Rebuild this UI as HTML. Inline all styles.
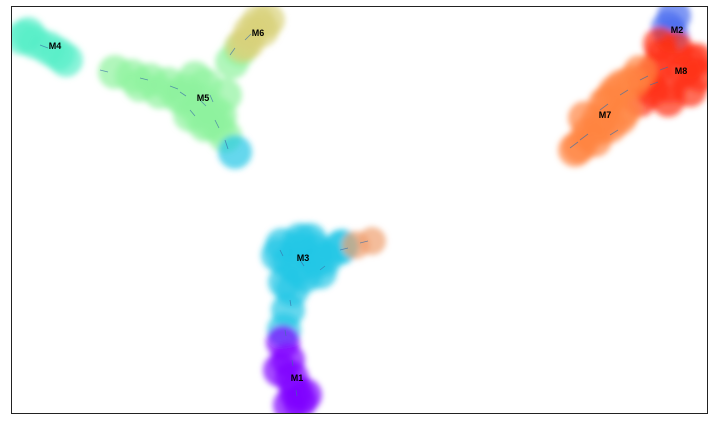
<!DOCTYPE html>
<html><head><meta charset="utf-8"><style>
html,body{margin:0;padding:0;background:#fff;}
svg{display:block;font-family:"Liberation Sans",sans-serif;}
</style></head><body>
<svg id="chart" width="712" height="424" viewBox="0 0 712 424">
<defs>
<filter id="blur" x="-20%" y="-20%" width="140%" height="140%"><feGaussianBlur stdDeviation="3"/></filter>
<clipPath id="clip"><rect x="12" y="7" width="695" height="406"/></clipPath>
</defs>
<g clip-path="url(#clip)"><g id="points" filter="url(#blur)"></g></g>
<g id="arrows"></g>
<g id="labels"></g>
<rect x="11.5" y="6.5" width="696" height="407" fill="none" stroke="#222" stroke-width="1"/>
</svg>
<script>
const clusterNames = ["M4","M5","M6","M3","M1","M2","M8","M7",""];
const clusterColors = ["#55eec8","#8ef29e","#d8d27a","#22c6e6","#7f00ff","#4a6cf0","#ff3014","#ff8442","#f0a070"];
const clusterLabelPos = [[55,46],[203,98],[258,33],[303,258],[297,378],[677,30],[681,71],[605,115],[0,0]];
const clusterX = [
  [22,35,48,58,66,28],
  [115,132,150,168,185,200,198,212,218,225,185,205,210,178,195,220,160,140,190,240,232,225,205],
  [258,250,262,248,268,242],
  [235,282,298,316,305,326,342,292,288,284,278,300,315,320,296,310,285,340,288],
  [283,288,292,296,300,290,305,280],
  [674,672,668],
  [662,684,670,652,640,676,690,655,668,645,660,697,700,690],
  [640,622,605,598,588,580,610,595,625,615,600,585,632,610,575,620],
  [372,356]
];
const clusterY = [
  [38,42,48,54,60,34],
  [72,76,80,84,90,100,112,110,126,136,100,85,122,96,78,116,92,85,115,50,62,95,125],
  [22,32,30,42,20,46],
  [152,245,248,262,276,258,246,290,310,330,255,240,250,272,268,240,282,248,262],
  [342,360,378,392,402,405,395,370],
  [16,36,28],
  [55,72,86,90,100,48,62,70,100,80,44,60,75,90],
  [72,86,104,120,134,146,126,140,110,92,128,118,82,100,150,118],
  [241,245]
];
const arrowX = [40,100,140,170,200,215,225,245,230,280,300,320,340,360,290,285,292,296,600,620,640,660,580,570,190,210,180,610,650];
const arrowY = [45,70,78,86,100,120,140,40,55,250,260,270,250,243,300,330,360,390,110,95,80,70,140,148,110,95,92,135,85];
const arrowDX = [8,8,8,8,6,4,3,6,5,3,4,5,8,8,1,1,1,1,8,8,8,8,8,8,5,3,6,8,8];
const arrowDY = [3,2,2,3,6,8,9,-6,-7,6,6,-4,-2,-2,6,6,6,6,-6,-5,-4,-3,-6,-6,6,7,4,-5,-3];
const X0=11, Y0=6;
const xs = v => X0 + (v - 11);
const ys = v => Y0 + (v - 6);
const NS="http://www.w3.org/2000/svg";
const pg=document.getElementById('points');
for(let k=0;k<clusterX.length;k++){
  for(let i=0;i<clusterX[k].length;i++){
    const c=document.createElementNS(NS,'circle');
    
    
    c.setAttribute('cx',xs(clusterX[k][i]));c.setAttribute('cy',ys(clusterY[k][i]));
    c.setAttribute('r',k===8?14:17);
    c.setAttribute('fill',clusterColors[k]);
    c.setAttribute('fill-opacity',0.7);
    pg.appendChild(c);
  }
}
const ag=document.getElementById('arrows');
for(let i=0;i<arrowX.length;i++){
  const l=document.createElementNS(NS,'line');
  
  
  l.setAttribute('x1',xs(arrowX[i]));l.setAttribute('y1',ys(arrowY[i]));
  l.setAttribute('x2',xs(arrowX[i]+arrowDX[i]));l.setAttribute('y2',ys(arrowY[i]+arrowDY[i]));
  l.setAttribute('stroke','#3a6fa8');l.setAttribute('stroke-width',0.8);l.setAttribute('opacity',0.7);
  ag.appendChild(l);
}
const lg=document.getElementById('labels');
for(let i=0;i<clusterNames.length;i++){
  if(!clusterNames[i]) continue;
  const t=document.createElementNS(NS,'text');
  
  
  t.setAttribute('x',xs(clusterLabelPos[i][0]));t.setAttribute('y',ys(clusterLabelPos[i][1])+3);
  t.setAttribute('text-anchor','middle');t.setAttribute('font-size','9');t.setAttribute('font-weight','bold');
  t.textContent=clusterNames[i];
  lg.appendChild(t);
}
</script>
</body></html>
